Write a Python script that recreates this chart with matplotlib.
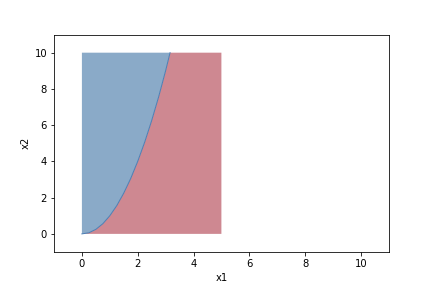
import numpy as np
import matplotlib.pyplot as plt

# extent of the shaded region
x1_min, x1_max = 0, 5
x2_min, x2_max = 0, 10
# boundary between the two classes
boundary_x1 = [0, 0.25, 0.5, 0.75, 1.0, 1.25, 1.5, 1.75, 2.0, 2.25, 2.5, 2.75, 3.0, 3.16]
boundary_x2 = [0, 0.06, 0.25, 0.56, 1.0, 1.56, 2.25, 3.06, 4.0, 5.06, 6.25, 7.56, 9.0, 10.0]

fig, ax = plt.subplots(figsize=(6, 4), dpi=72)
fig.subplots_adjust(left=0.125, right=0.9, bottom=0.125, top=0.88)

# upper-left class (blue)
blue_x = [x1_min] + boundary_x1 + [x1_min]
blue_y = [x2_min] + boundary_x2 + [x2_max]
ax.fill(blue_x, blue_y, color='#8aaac8', linewidth=0)

# lower-right class (red)
red_x = boundary_x1 + [x1_max, x1_max]
red_y = boundary_x2 + [x2_max, x2_min]
ax.fill(red_x, red_y, color='#ce8891', linewidth=0)

# decision boundary edge
ax.plot(boundary_x1, boundary_x2, color='#4a7fb5', linewidth=1.0)

ax.set_xlim(-1, 11)
ax.set_ylim(-1, 11)
ax.set_xticks([0, 2, 4, 6, 8, 10])
ax.set_yticks([0, 2, 4, 6, 8, 10])
ax.set_xlabel('x1')
ax.set_ylabel('x2')

plt.savefig('out.png', dpi=72)
